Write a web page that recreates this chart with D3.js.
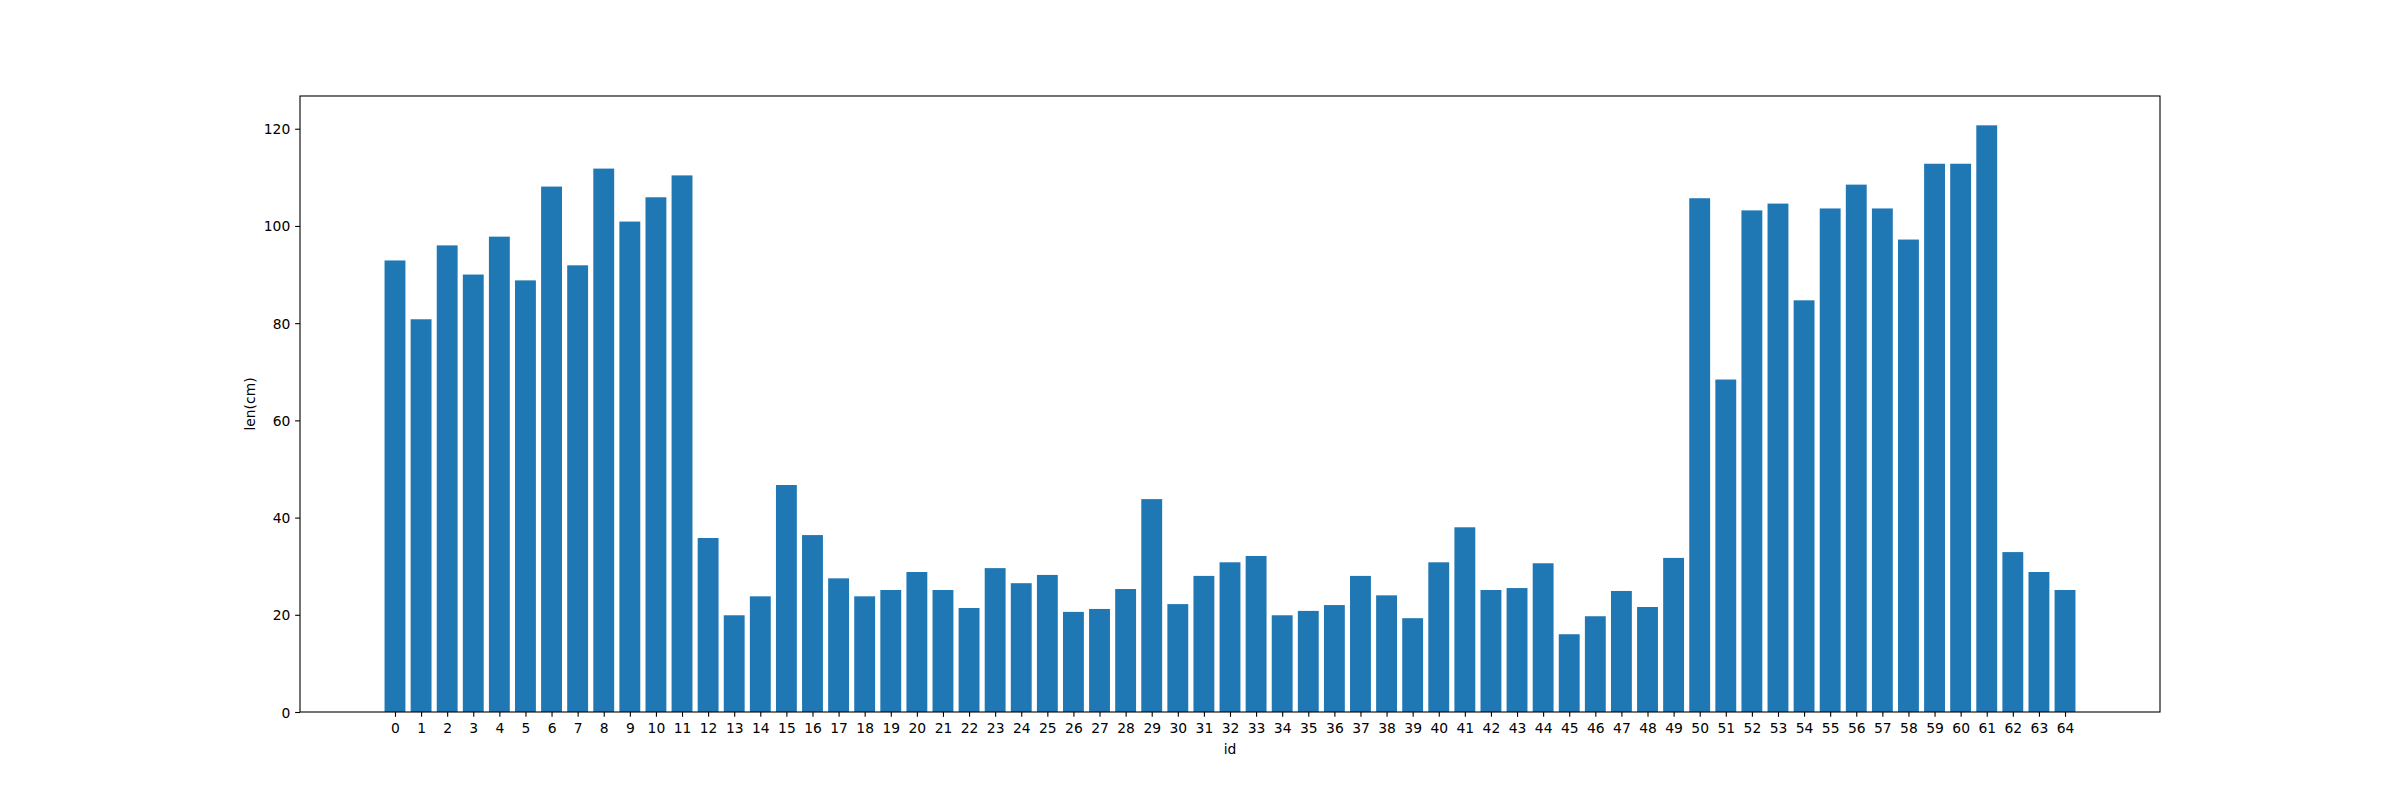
<!DOCTYPE html>
<html>
<head>
<meta charset="utf-8">
<script src="https://cdn.jsdelivr.net/npm/d3@7"></script>
<style>
html, body { margin: 0; padding: 0; background: #fff; }
svg { display: block; }
text { font-family: "DejaVu Sans", sans-serif; fill: #000; }
</style>
</head>
<body>
<svg id="chart" width="2400" height="800"></svg>
<script>
const ids = d3.range(0, 65);
const lengths = [
  92.9, 80.8, 96.0, 90.0, 97.8, 88.8, 108.1, 91.9, 111.8, 100.9,
  105.9, 110.4, 35.8, 19.9, 23.8, 46.7, 36.4, 27.5, 23.8, 25.1,
  28.8, 25.1, 21.4, 29.6, 26.5, 28.2, 20.6, 21.2, 25.3, 43.8,
  22.2, 28.0, 30.8, 32.1, 19.9, 20.8, 22.0, 28.0, 24.0, 19.3,
  30.8, 38.0, 25.1, 25.5, 30.6, 16.0, 19.7, 24.9, 21.6, 31.7,
  105.7, 68.4, 103.2, 104.6, 84.7, 103.6, 108.5, 103.6, 97.2, 112.8,
  112.8, 120.7, 32.9, 28.8, 25.1
];
const yTicks = [0, 20, 40, 60, 80, 100, 120];
const xLabel = "id";
const yLabel = "len(cm)";

const plotL = 300, plotR = 2160, plotT = 96, plotB = 712;
const barW = 0.8;
const fs = 13.89;
const tickLen = 4.86, pad = 4.86;

const svg = d3.select("#chart");

const n = ids.length;
const xMin = -barW / 2, xMax = (n - 1) + barW / 2;
const xm = (xMax - xMin) * 0.05;
const x = d3.scaleLinear().domain([xMin - xm, xMax + xm]).range([plotL, plotR]);
const yMaxData = d3.max(lengths);
const y = d3.scaleLinear().domain([0, yMaxData * 1.05]).range([plotB, plotT]);

// bars
svg.append("g").selectAll("rect").data(ids).join("rect")
  .attr("x", i => x(i - barW / 2))
  .attr("width", i => x(i + barW / 2) - x(i - barW / 2))
  .attr("y", i => y(lengths[i]))
  .attr("height", i => y(0) - y(lengths[i]))
  .attr("fill", "#1f77b4");

// axes via d3
const xAxis = d3.axisBottom(x).tickValues(ids).tickFormat(d3.format("d"))
  .tickSizeInner(tickLen).tickSizeOuter(0).tickPadding(pad);
const gx = svg.append("g").attr("transform", `translate(0,${plotB})`).call(xAxis);
gx.select(".domain").remove();
gx.selectAll("line").attr("stroke", "#000").attr("stroke-width", 1.1);
gx.selectAll("text").attr("font-size", fs).attr("fill", "#000")
  .attr("font-family", "DejaVu Sans").attr("dy", null).attr("y", tickLen + pad + 11.6);

const yAxis = d3.axisLeft(y).tickValues(yTicks).tickFormat(d3.format("d"))
  .tickSizeInner(tickLen).tickSizeOuter(0).tickPadding(pad);
const gy = svg.append("g").attr("transform", `translate(${plotL},0)`).call(yAxis);
gy.select(".domain").remove();
gy.selectAll("line").attr("stroke", "#000").attr("stroke-width", 1.1);
gy.selectAll("text").attr("font-size", fs).attr("fill", "#000")
  .attr("font-family", "DejaVu Sans").attr("dy", "0.36em");

// frame (spines)
svg.append("rect")
  .attr("x", plotL).attr("y", plotT)
  .attr("width", plotR - plotL).attr("height", plotB - plotT)
  .attr("fill", "none").attr("stroke", "#000").attr("stroke-width", 1.1);

// axis labels
svg.append("text").attr("x", (plotL + plotR) / 2).attr("y", 753.5)
  .attr("text-anchor", "middle").attr("font-size", fs).text(xLabel);
svg.append("text")
  .attr("transform", `translate(${255},${(plotT + plotB) / 2}) rotate(-90)`)
  .attr("text-anchor", "middle").attr("font-size", fs).text(yLabel);
</script>
</body>
</html>
